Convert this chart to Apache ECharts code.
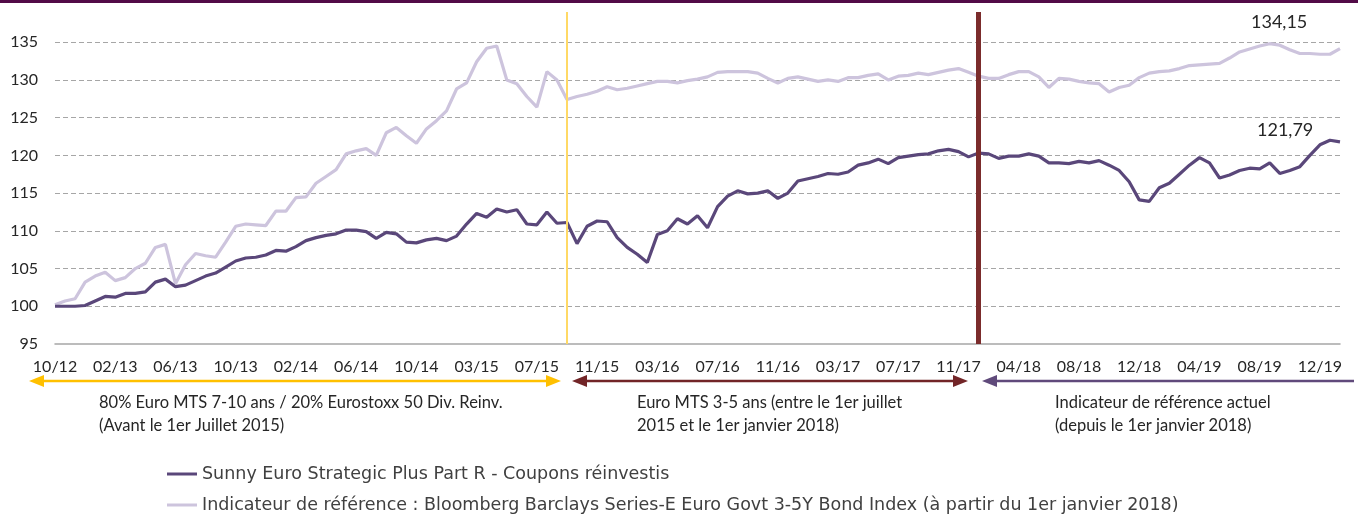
<!DOCTYPE html>
<html>
<head>
<meta charset="utf-8">
<script src="https://cdn.jsdelivr.net/npm/echarts@6/dist/echarts.min.js"></script>
<style>
  html, body { margin: 0; padding: 0; background: #fff; }
  #main { width: 1358px; height: 516px; }
</style>
</head>
<body>
<div id="main"></div>
<script>
// x axis labels, one every 6 points
const tickLabels = ['10/12','02/13','06/13','10/13','02/14','06/14','10/14','03/15','07/15','11/15',
  '03/16','07/16','11/16','03/17','07/17','11/17','04/18','08/18','12/18','04/19','08/19','12/19'];
const pointsPerTick = 6;

// Sunny Euro Strategic Plus Part R
const fundValues = [
  100.0,100.0,100.0,100.1,100.7,101.3,101.2,101.7,101.7,101.9,
  103.2,103.6,102.6,102.8,103.4,104.0,104.4,105.2,106.0,106.4,
  106.5,106.8,107.4,107.3,107.9,108.7,109.1,109.4,109.6,110.1,
  110.1,109.9,109.0,109.8,109.6,108.5,108.4,108.8,109.0,108.7,
  109.3,110.9,112.3,111.8,112.9,112.5,112.8,110.9,110.8,112.5,
  111.0,111.1,108.3,110.6,111.3,111.2,109.1,107.8,106.9,105.8,
  109.5,110.0,111.6,110.9,112.0,110.4,113.2,114.6,115.3,114.9,
  115.0,115.3,114.3,115.0,116.6,116.9,117.2,117.6,117.5,117.8,
  118.7,119.0,119.5,118.9,119.7,119.9,120.1,120.2,120.6,120.8,
  120.5,119.8,120.3,120.2,119.6,119.9,119.9,120.2,119.9,119.0,
  119.0,118.9,119.2,119.0,119.3,118.7,118.0,116.5,114.1,113.9,
  115.7,116.3,117.5,118.7,119.7,119.0,117.0,117.4,118.0,118.3,
  118.2,119.0,117.6,118.0,118.5,120.0,121.4,122.0,121.79
];

// Indicateur de référence
const benchValues = [
  100.2,100.7,101.0,103.2,104.0,104.5,103.4,103.8,105.0,105.7,
  107.8,108.2,103.0,105.5,107.0,106.7,106.5,108.5,110.6,110.9,
  110.8,110.7,112.6,112.6,114.4,114.5,116.3,117.2,118.1,120.2,
  120.6,120.9,120.0,123.0,123.7,122.6,121.6,123.5,124.6,125.9,
  128.8,129.6,132.4,134.2,134.5,130.0,129.5,127.8,126.4,131.1,
  130.0,127.4,127.8,128.1,128.5,129.1,128.7,128.9,129.2,129.5,
  129.8,129.8,129.6,129.9,130.1,130.4,131.0,131.1,131.1,131.1,
  130.9,130.2,129.6,130.2,130.4,130.1,129.8,130.0,129.8,130.3,
  130.3,130.6,130.8,130.0,130.5,130.6,130.9,130.7,131.0,131.3,
  131.5,131.0,130.5,130.2,130.2,130.7,131.1,131.1,130.4,129.0,
  130.2,130.1,129.8,129.6,129.5,128.4,129.0,129.3,130.3,130.9,
  131.1,131.2,131.5,131.9,132.0,132.1,132.2,132.9,133.7,134.1,
  134.5,134.8,134.6,134.0,133.5,133.5,133.4,133.4,134.15
];

const fundName = 'Sunny Euro Strategic Plus Part R - Coupons réinvestis';
const benchName = 'Indicateur de référence : Bloomberg Barclays Series-E Euro Govt 3-5Y Bond Index (à partir du 1er janvier 2018)';

// index positions of the benchmark changes (07/2015 and 01/2018)
const changeIndexes = [51, 92];

const categories = fundValues.map((v, i) => 'p' + i);

const FONT = 'Lato, "Open Sans", sans-serif';
const darkPurple = '#5a477a';
const lightPurple = '#cdc4dd';
const textColor = '#262626';

const fmt = p => p.value.toFixed(2).replace('.', ',');

const legendBase = {
  orient: 'vertical',
  left: 167,
  padding: 0,
  itemWidth: 30,
  itemHeight: 3,
  icon: 'rect',
  textStyle: { fontFamily: '"DejaVu Sans", sans-serif', fontSize: 17.5, color: '#404040' }
};

const chart = echarts.init(document.getElementById('main'));
chart.setOption({
  backgroundColor: '#fff',
  animation: false,
  grid: { left: 55, right: 18, top: 12, bottom: 172 },
  legend: [
    Object.assign({}, legendBase, { top: 465, data: [fundName] }),
    Object.assign({}, legendBase, { top: 496, data: [benchName] })
  ],
  xAxis: {
    type: 'category',
    data: categories,
    boundaryGap: false,
    axisLine: { lineStyle: { color: '#a6a6a6', width: 1.5 } },
    axisTick: { show: false },
    axisLabel: {
      interval: pointsPerTick - 1,
      margin: 15,
      color: textColor,
      fontFamily: FONT,
      fontSize: 16,
      formatter: (v, i) => tickLabels[i / pointsPerTick] || ''
    },
    splitLine: { show: false }
  },
  yAxis: {
    type: 'value',
    min: 95,
    max: 139,
    interval: 5,
    axisLine: { show: false },
    axisTick: { show: false },
    axisLabel: {
      margin: 17,
      color: textColor,
      fontFamily: FONT,
      fontSize: 16,
      showMaxLabel: false
    },
    splitLine: {
      showMinLine: false,
      showMaxLine: false,
      lineStyle: { color: '#a6a6a6', type: [5, 3], width: 1 }
    }
  },
  series: [
    {
      name: benchName,
      type: 'line',
      data: benchValues,
      symbol: 'none',
      color: lightPurple,
      lineStyle: { width: 3.2, color: lightPurple },
      endLabel: {
        show: true, formatter: fmt, distance: 0, offset: [-89, -26],
        color: textColor, fontFamily: FONT, fontSize: 18
      },
      z: 2
    },
    {
      name: fundName,
      type: 'line',
      data: fundValues,
      symbol: 'none',
      color: darkPurple,
      lineStyle: { width: 3.2, color: darkPurple },
      endLabel: {
        show: true, formatter: fmt, distance: 0, offset: [-83, -12],
        color: textColor, fontFamily: FONT, fontSize: 18
      },
      markLine: {
        silent: true,
        symbol: 'none',
        label: { show: false },
        data: [
          { xAxis: changeIndexes[0], lineStyle: { color: '#ffd966', width: 2, type: 'solid' } },
          { xAxis: changeIndexes[1], lineStyle: { color: '#7b2c2c', width: 5, type: 'solid' } }
        ]
      },
      z: 3
    }
  ],
  graphic: [
    { type: 'rect', shape: { x: 0, y: 0, width: 1358, height: 3 }, style: { fill: '#520b47' } },
    // yellow double arrow
    { type: 'line', shape: { x1: 40, y1: 381, x2: 550, y2: 381 }, style: { stroke: '#ffc000', lineWidth: 2.5 } },
    { type: 'polygon', shape: { points: [[29, 381], [44, 375], [44, 387]] }, style: { fill: '#ffc000' } },
    { type: 'polygon', shape: { points: [[561, 381], [546, 375], [546, 387]] }, style: { fill: '#ffc000' } },
    // dark red double arrow
    { type: 'line', shape: { x1: 583, y1: 381, x2: 957, y2: 381 }, style: { stroke: '#722527', lineWidth: 2.5 } },
    { type: 'polygon', shape: { points: [[572, 381], [587, 375], [587, 387]] }, style: { fill: '#722527' } },
    { type: 'polygon', shape: { points: [[968, 381], [953, 375], [953, 387]] }, style: { fill: '#722527' } },
    // purple arrow
    { type: 'line', shape: { x1: 993, y1: 381, x2: 1354, y2: 381 }, style: { stroke: '#604a7b', lineWidth: 2.5 } },
    { type: 'polygon', shape: { points: [[982, 381], [997, 375], [997, 387]] }, style: { fill: '#604a7b' } },
    // period texts
    { type: 'text', x: 99, y: 403, style: { text: '80% Euro MTS 7-10 ans / 20% Eurostoxx 50 Div. Reinv.', fill: textColor, font: '16.5px ' + FONT, verticalAlign: 'middle' } },
    { type: 'text', x: 99, y: 426, style: { text: '(Avant le 1er Juillet 2015)', fill: textColor, font: '16.5px ' + FONT, verticalAlign: 'middle' } },
    { type: 'text', x: 637, y: 403, style: { text: 'Euro MTS 3-5 ans (entre le 1er juillet', fill: textColor, font: '16.5px ' + FONT, verticalAlign: 'middle' } },
    { type: 'text', x: 637, y: 426, style: { text: '2015 et le 1er janvier 2018)', fill: textColor, font: '16.5px ' + FONT, verticalAlign: 'middle' } },
    { type: 'text', x: 1055, y: 403, style: { text: 'Indicateur de référence actuel', fill: textColor, font: '16.5px ' + FONT, verticalAlign: 'middle' } },
    { type: 'text', x: 1055, y: 426, style: { text: '(depuis le 1er janvier 2018)', fill: textColor, font: '16.5px ' + FONT, verticalAlign: 'middle' } }
  ]
});
</script>
</body>
</html>
